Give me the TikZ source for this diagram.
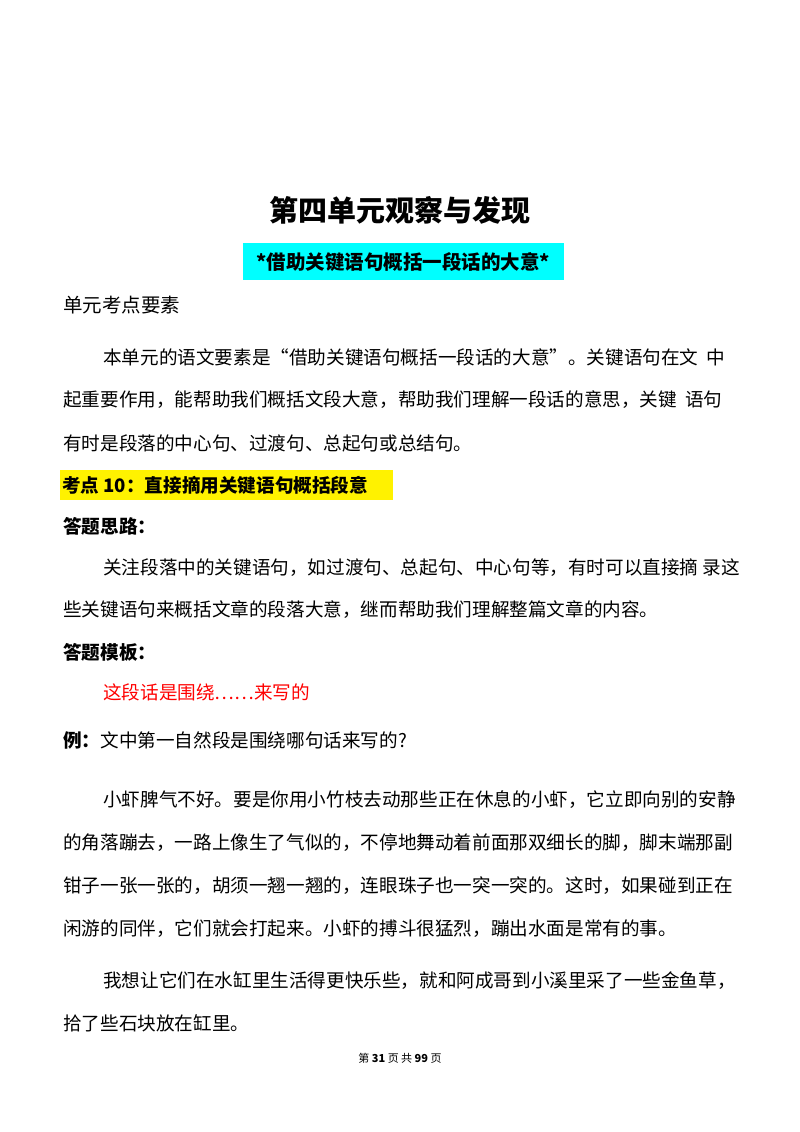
\documentclass[tikz,border=0pt]{standalone}
\usepackage{fontspec}
\setmainfont{Noto Sans CJK SC}
\definecolor{aqua}{RGB}{0,255,255}
\begin{document}
\begin{tikzpicture}[x=1pt,y=-1pt,
  body/.style={anchor=west,inner sep=0pt,font=\fontsize{18.6}{20}\selectfont},
  head/.style={anchor=west,inner sep=0pt,font=\fontsize{18.6}{20}\selectfont\bfseries}]
\useasboundingbox[fill=white] (0,0) rectangle (800,1132);
\node[inner sep=0pt,font=\fontsize{29}{32}\selectfont\bfseries] (title) at (400,210) {第四单元观察与发现};
\fill[aqua] (243,243) rectangle (564,280);
\node[inner sep=0pt,font=\fontsize{19.5}{22}\selectfont\bfseries] (sub) at (403,262) {*借助关键语句概括一段话的大意*};
\node[body,font=\fontsize{19.5}{22}\selectfont] (unit) at (63,305) {单元考点要素};
\node[body] (p1) at (103,357) {本单元的语文要素是“借助关键语句概括一段话的大意”。关键语句在文\ \ 中};
\node[body] (p2) at (63,400) {起重要作用，能帮助我们概括文段大意，帮助我们理解一段话的意思，关键\ \ 语句};
\node[body] (p3) at (63,443) {有时是段落的中心句、过渡句、总起句或总结句。};
\fill[yellow] (60,470) rectangle (393,500);
\node[head] (kd) at (62,485) {考点 10：直接摘用关键语句概括段意};
\node[head] (sl) at (63,526) {答题思路：};
\node[body] (q1) at (103,568) {关注段落中的关键语句，如过渡句、总起句、中心句等，有时可以直接摘\ 录这};
\node[body] (q2) at (63,610) {些关键语句来概括文章的段落大意，继而帮助我们理解整篇文章的内容。};
\node[head] (mb) at (63,652) {答题模板：};
\node[body,text=red] (red) at (103,692) {这段话是围绕……来写的};
\node[body] (li) at (63,740) {\textbf{例：}文中第一自然段是围绕哪句话来写的?};
\node[body] (e1) at (103,800) {小虾脾气不好。要是你用小竹枝去动那些正在休息的小虾，它立即向别的安静};
\node[body] (e2) at (63,843) {的角落蹦去，一路上像生了气似的，不停地舞动着前面那双细长的脚，脚末端那副};
\node[body] (e3) at (63,886) {钳子一张一张的，胡须一翘一翘的，连眼珠子也一突一突的。这时，如果碰到正在};
\node[body] (e4) at (63,929) {闲游的同伴，它们就会打起来。小虾的搏斗很猛烈，蹦出水面是常有的事。};
\node[body] (f1) at (103,981) {我想让它们在水缸里生活得更快乐些，就和阿成哥到小溪里采了一些金鱼草，};
\node[body] (f2) at (63,1023) {拾了些石块放在缸里。};
\node[inner sep=0pt,font=\fontsize{11}{12}\selectfont] (foot) at (400,1058) {第\ \textbf{31}\ 页\ 共\ \textbf{99}\ 页};
\end{tikzpicture}
\end{document}
